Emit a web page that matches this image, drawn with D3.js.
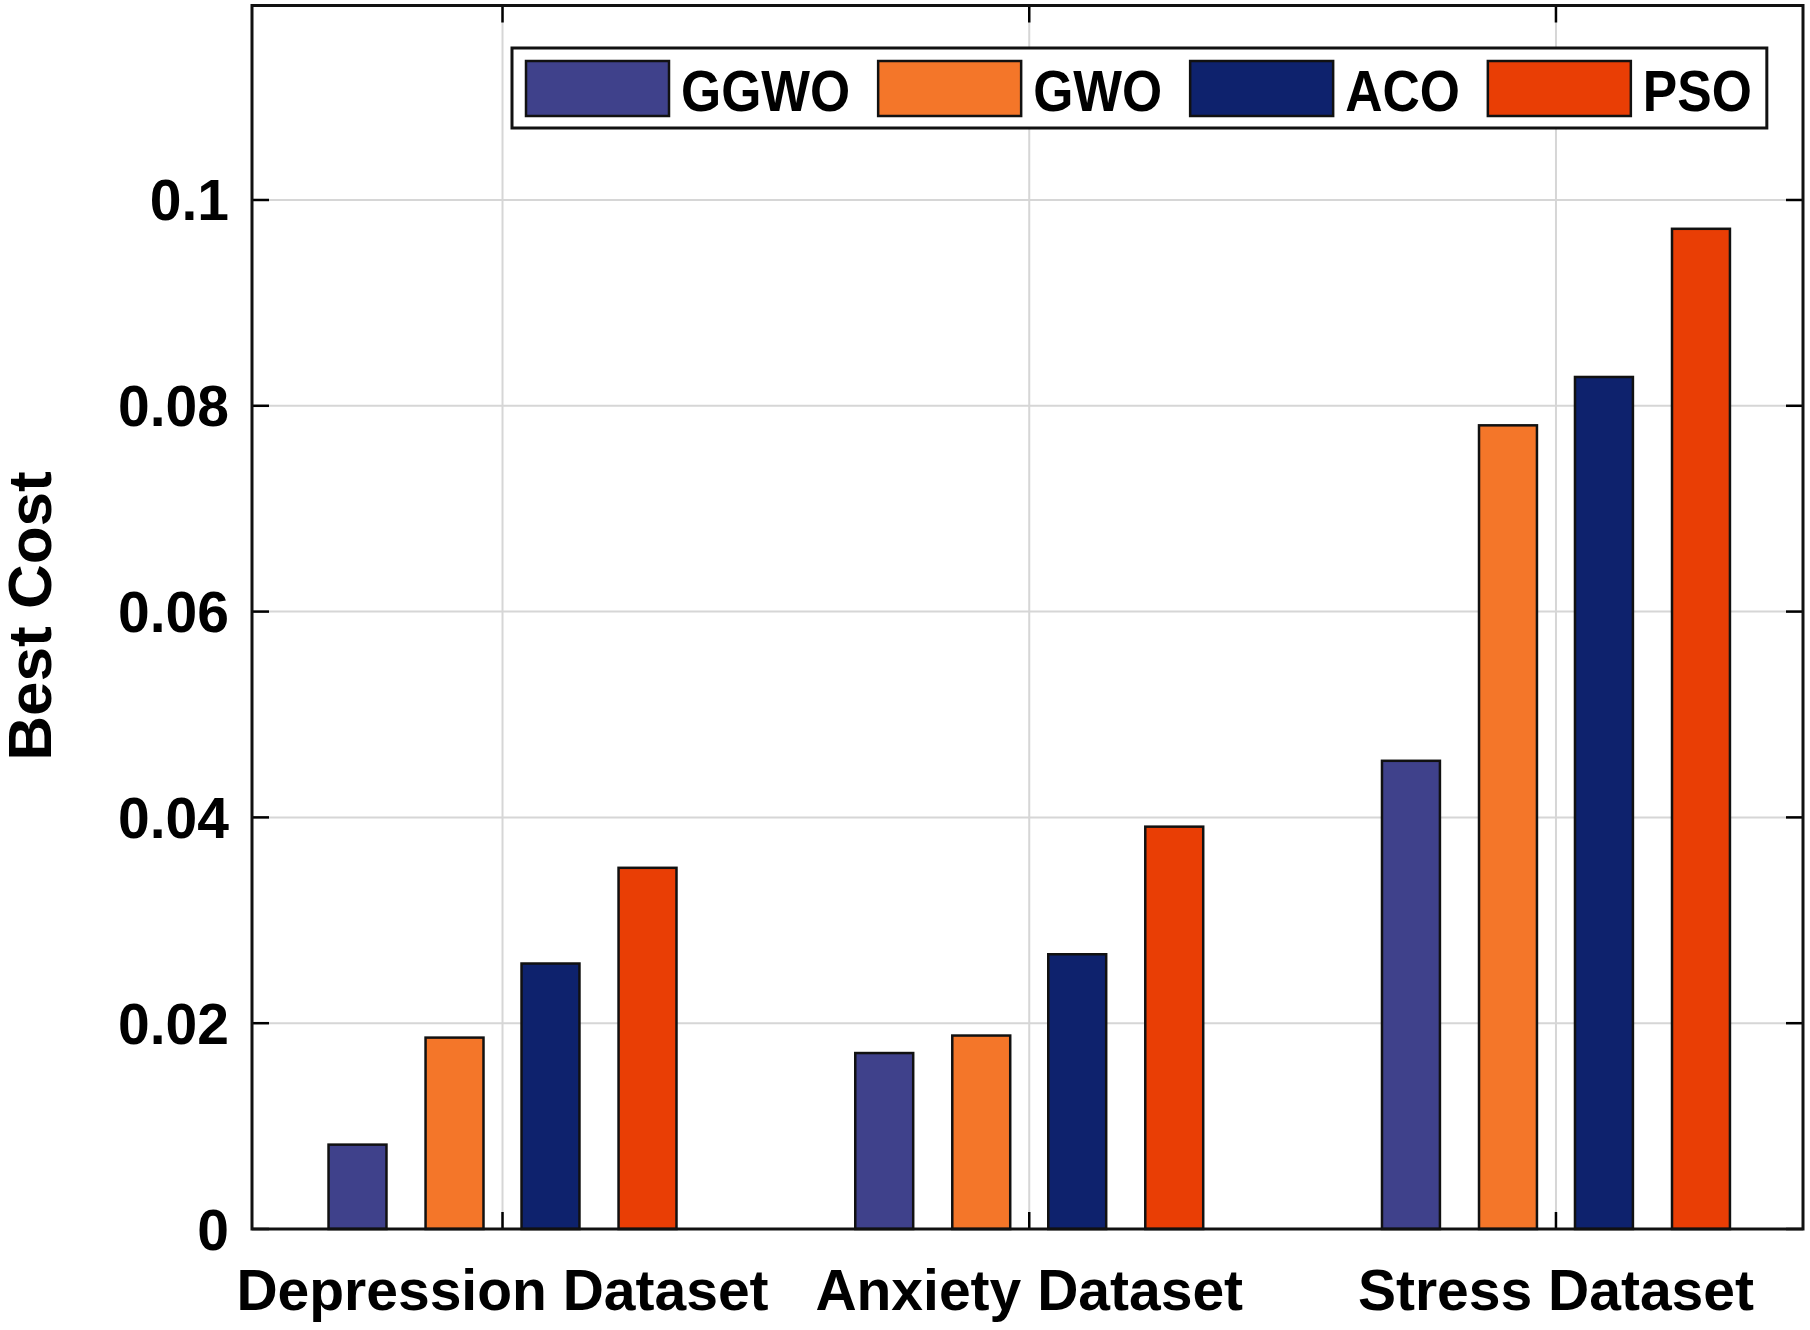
<!DOCTYPE html>
<html>
<head>
<meta charset="utf-8">
<script src="https://cdn.jsdelivr.net/npm/d3@7"></script>
<style>
  body { margin: 0; background: #fff; }
  text { font-family: "Liberation Sans", Arial, Helvetica, sans-serif; font-weight: bold; fill: #000; }
</style>
</head>
<body>
<svg id="chart" width="1810" height="1330"></svg>
<script>
// data
var datasets = ["Depression Dataset", "Anxiety Dataset", "Stress Dataset"];
var methods = ["GGWO", "GWO", "ACO", "PSO"];
var colors = ["#3f418b", "#f47629", "#0e226d", "#e93e05"];
var ggwo = [0.0082, 0.0171, 0.0455];
var gwo  = [0.0186, 0.0188, 0.0781];
var aco  = [0.0258, 0.0267, 0.0828];
var pso  = [0.0351, 0.0391, 0.0972];
var yTicks = [0, 0.02, 0.04, 0.06, 0.08, 0.1];
var yTickLabels = ["0", "0.02", "0.04", "0.06", "0.08", "0.1"];

var series = [ggwo, gwo, aco, pso];

var svg = d3.select("#chart");
var pLeft = 252, pRight = 1803, pTop = 5.5, pBottom = 1229;

var x = d3.scaleLinear().domain([0.5244, 3.469]).range([pLeft, pRight]);
var y = d3.scaleLinear().domain([0, 0.1189]).range([pBottom, pTop]);

var offsets = [-0.2753, -0.0911, 0.0911, 0.2753];
var barW = 0.110;

// grid
var grid = svg.append("g").attr("stroke", "#d6d6d6").attr("stroke-width", 2);
grid.selectAll(".gy").data(yTicks.slice(1)).enter().append("line")
  .attr("x1", pLeft).attr("x2", pRight)
  .attr("y1", d => y(d)).attr("y2", d => y(d));
grid.selectAll(".gx").data(datasets).enter().append("line")
  .attr("x1", (d, i) => x(i + 1)).attr("x2", (d, i) => x(i + 1))
  .attr("y1", pTop).attr("y2", pBottom);

// ticks (inward, mirrored)
var tk = 17;
var ticks = svg.append("g").attr("stroke", "#000").attr("stroke-width", 2.5);
ticks.selectAll(".tl").data(yTicks).enter().append("line")
  .attr("x1", pLeft).attr("x2", pLeft + tk).attr("y1", d => y(d)).attr("y2", d => y(d));
ticks.selectAll(".tr").data(yTicks).enter().append("line")
  .attr("x1", pRight - tk).attr("x2", pRight).attr("y1", d => y(d)).attr("y2", d => y(d));
ticks.selectAll(".tb").data(datasets).enter().append("line")
  .attr("x1", (d, i) => x(i + 1)).attr("x2", (d, i) => x(i + 1))
  .attr("y1", pBottom).attr("y2", pBottom - tk);
ticks.selectAll(".tt").data(datasets).enter().append("line")
  .attr("x1", (d, i) => x(i + 1)).attr("x2", (d, i) => x(i + 1))
  .attr("y1", pTop).attr("y2", pTop + tk);

// bars
series.forEach(function(vals, s) {
  svg.append("g").selectAll("rect").data(vals).enter().append("rect")
    .attr("x", (d, i) => x(i + 1 + offsets[s] - barW / 2))
    .attr("width", x(barW) - x(0))
    .attr("y", d => y(d))
    .attr("height", d => y(0) - y(d))
    .attr("fill", colors[s])
    .attr("stroke", "#111")
    .attr("stroke-width", 2.5);
});

// axes box
svg.append("rect")
  .attr("x", pLeft).attr("y", pTop)
  .attr("width", pRight - pLeft).attr("height", pBottom - pTop)
  .attr("fill", "none").attr("stroke", "#111").attr("stroke-width", 3);

// y tick labels
svg.append("g").selectAll("text").data(yTicks).enter().append("text")
  .attr("x", 229).attr("y", d => y(d) + 20.5)
  .attr("text-anchor", "end")
  .style("font-size", "57px")
  .text((d, i) => yTickLabels[i]);

// x labels
svg.append("g").selectAll("text").data(datasets).enter().append("text")
  .attr("x", (d, i) => x(i + 1)).attr("y", 1310)
  .attr("text-anchor", "middle")
  .style("font-size", "57px")
  .text(d => d);

// y label
svg.append("text")
  .attr("transform", "translate(51," + 616 + ") rotate(-90)")
  .attr("text-anchor", "middle")
  .style("font-size", "62px")
  .text("Best Cost");

// legend (text slightly condensed like the original)
var sx = 0.89;
var lg = svg.append("g");
var lgBox = lg.append("rect")
  .attr("x", 512).attr("y", 48).attr("width", 1255).attr("height", 80)
  .attr("fill", "#fff").attr("stroke", "#111").attr("stroke-width", 3);
var lx = 526;
methods.forEach(function(m, i) {
  lg.append("rect")
    .attr("x", lx).attr("y", 61).attr("width", 143).attr("height", 55)
    .attr("fill", colors[i]).attr("stroke", "#111").attr("stroke-width", 2.5);
  var t = lg.append("text")
    .attr("transform", "translate(" + (lx + 155) + ",111) scale(" + sx + ",1)")
    .style("font-size", "58px")
    .text(m);
  lx = lx + 155 + t.node().getComputedTextLength() * sx + 28;
});
lgBox.attr("width", lx - 28 + 15 - 512);
</script>
</body>
</html>
